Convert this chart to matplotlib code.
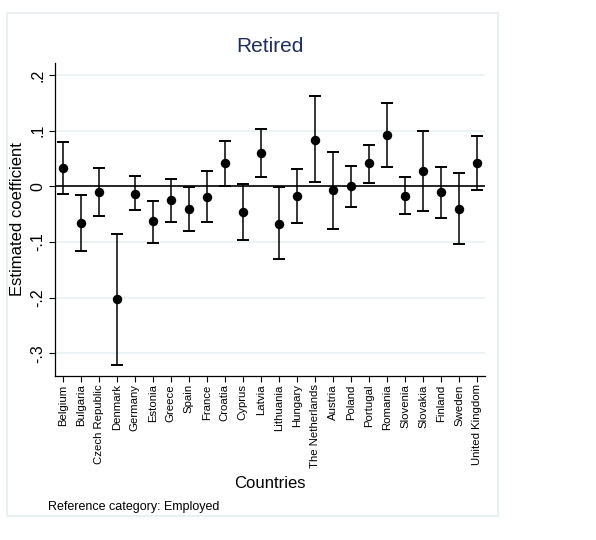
import numpy as np
import matplotlib
matplotlib.use('Agg')
import matplotlib.pyplot as plt
from matplotlib.patches import Rectangle

# data
countries = ['Belgium', 'Bulgaria', 'Czech Republic', 'Denmark', 'Germany', 'Estonia',
             'Greece', 'Spain', 'France', 'Croatia', 'Cyprus', 'Latvia', 'Lithuania',
             'Hungary', 'The Netherlands', 'Austria', 'Poland', 'Portugal', 'Romania',
             'Slovenia', 'Slovakia', 'Finland', 'Sweden', 'United Kingdom']
coef = [0.032, -0.066, -0.010, -0.203, -0.013, -0.063, -0.025, -0.041, -0.019, 0.041,
        -0.046, 0.059, -0.067, -0.017, 0.084, -0.007, 0.000, 0.041, 0.093, -0.017,
        0.027, -0.011, -0.040, 0.042]
upper = [0.080, -0.015, 0.033, -0.085, 0.018, -0.026, 0.014, -0.002, 0.028, 0.082,
         0.005, 0.102, -0.002, 0.031, 0.162, 0.062, 0.037, 0.075, 0.150, 0.017,
         0.099, 0.034, 0.024, 0.091]
lower = [-0.014, -0.116, -0.053, -0.320, -0.043, -0.101, -0.064, -0.080, -0.064, 0.000,
         -0.096, 0.017, -0.131, -0.065, 0.007, -0.076, -0.038, 0.006, 0.034, -0.050,
         -0.044, -0.057, -0.104, -0.006]
yticks = [-0.3, -0.2, -0.1, 0, 0.1, 0.2]
yticklabels = ['-.3', '-.2', '-.1', '0', '.1', '.2']

narrow = ['Liberation Sans Narrow', 'Liberation Sans', 'DejaVu Sans']
plt.rcParams['font.family'] = ['Liberation Sans', 'DejaVu Sans']

x = np.arange(1, len(countries) + 1)
coef = np.array(coef)
err = [coef - np.array(lower), np.array(upper) - coef]

fig = plt.figure(figsize=(5.96, 5.4), dpi=100)
fig.patches.append(Rectangle((7 / 596, 1 - 516 / 540), 491 / 596, 503 / 540,
                             transform=fig.transFigure, fill=False,
                             edgecolor='#e6eef0', linewidth=1.2))
ax = fig.add_axes([55.3 / 596, 1 - 376 / 540, (485 - 55.3) / 596, (376 - 63) / 540])

for v in yticks:
    if v != 0:
        ax.axhline(v, color='#eaf2f3', linewidth=1.3, zorder=0)
ax.axhline(0, color='black', linewidth=1.2, zorder=1)

ax.errorbar(x, coef, yerr=err, fmt='o', color='black', ecolor='black',
            markersize=5.8, elinewidth=1.1, capsize=4.2, capthick=1.4, zorder=3)

ax.set_xlim(0.59, 24.44)
ax.set_ylim(-0.3406, 0.2214)
ax.set_xticks(x)
ax.set_xticklabels(countries, rotation=90, fontsize=8.2)
ax.set_yticks(yticks)
ax.set_yticklabels(yticklabels, rotation=90, va='center', fontsize=11.5)
ax.tick_params(axis='x', length=4, width=0.8, pad=2)
ax.tick_params(axis='y', length=4, width=0.8, pad=3)
for s in ['top', 'right']:
    ax.spines[s].set_visible(False)
for s in ['left', 'bottom']:
    ax.spines[s].set_linewidth(0.9)
ax.set_ylabel('Estimated coefficient', fontsize=12, labelpad=4)

fig.text(270 / 596, 1 - 47 / 540, 'Retired', ha='center', va='center',
         fontsize=15, color='#1e2f5a', family=narrow)
fig.text(270 / 596, 1 - 483 / 540, 'Countries', ha='center', va='center',
         fontsize=12, family=narrow)
fig.text(48 / 596, 1 - 507 / 540, 'Reference category: Employed', ha='left',
         va='center', fontsize=9, family=narrow)

fig.savefig('out.png', dpi=100)
